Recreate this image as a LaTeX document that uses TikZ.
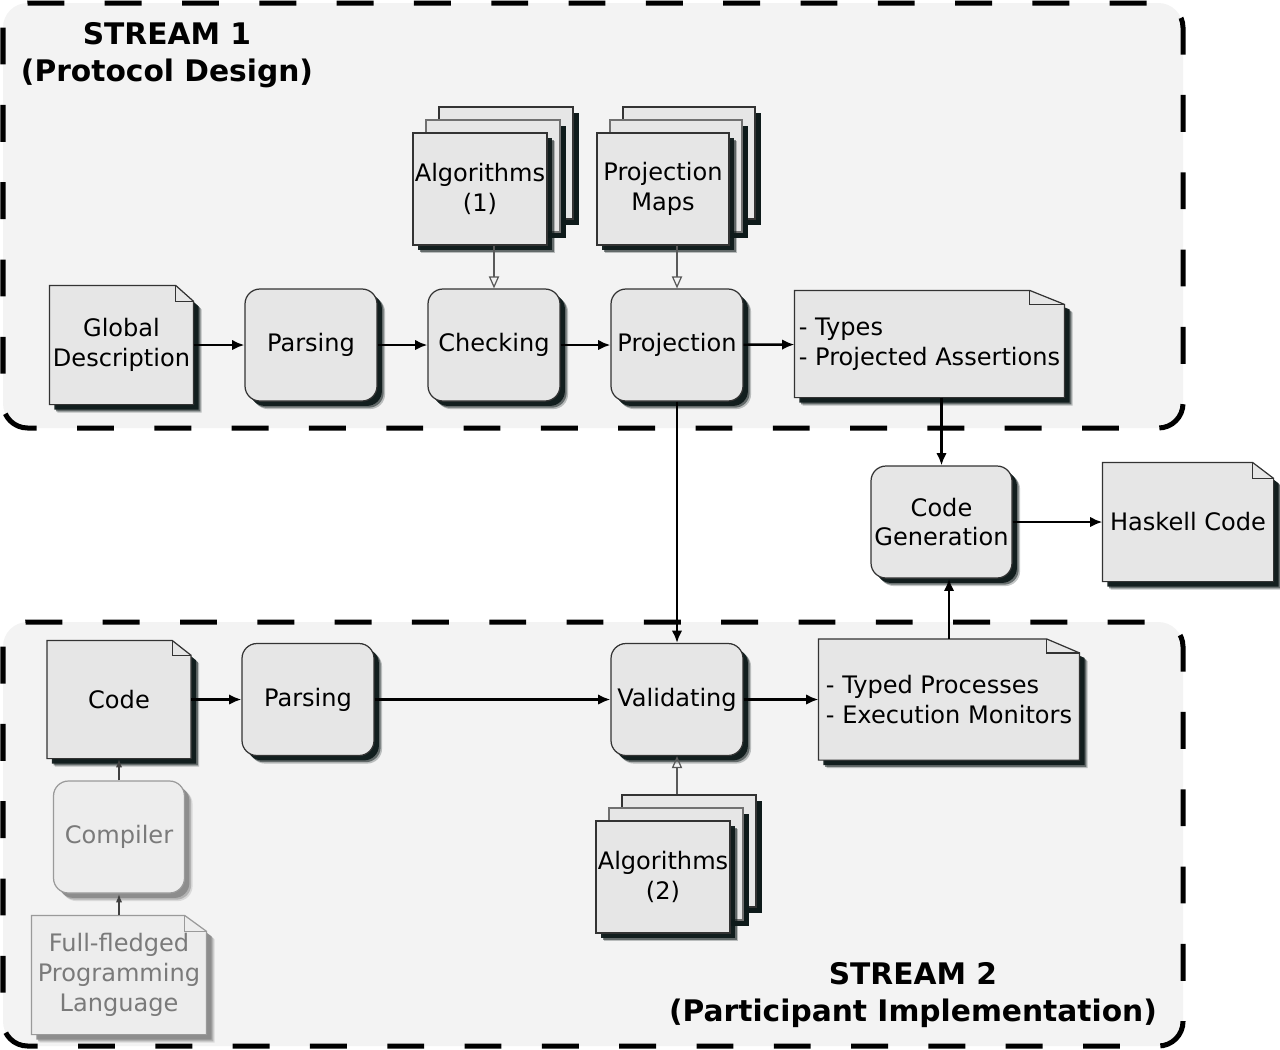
\documentclass[tikz,border=0pt]{standalone}
\usepackage{fontspec}
\setmainfont{DejaVu Sans}
\usetikzlibrary{arrows.meta,shadows,calc}
\definecolor{panel}{HTML}{F3F3F3}
\definecolor{boxfill}{HTML}{E6E6E6}
\definecolor{boxline}{HTML}{333333}
\definecolor{shadowc}{HTML}{0E1A1A}
\definecolor{ghostfill}{HTML}{EDEDED}
\definecolor{ghostline}{HTML}{9A9A9A}
\definecolor{faint}{HTML}{7A7A7A}

\makeatletter
\pgfkeys{/pgf/fold x/.initial=10pt,/pgf/fold y/.initial=9pt}
\pgfdeclareshape{dogear}{
	\inheritsavedanchors[from=rectangle]
	\inheritanchorborder[from=rectangle]
	\inheritanchor[from=rectangle]{center}
	\inheritanchor[from=rectangle]{text}
	\inheritanchor[from=rectangle]{base}
	\inheritanchor[from=rectangle]{mid}
	\inheritanchor[from=rectangle]{north}
	\inheritanchor[from=rectangle]{south}
	\inheritanchor[from=rectangle]{east}
	\inheritanchor[from=rectangle]{west}
	\inheritanchor[from=rectangle]{north east}
	\inheritanchor[from=rectangle]{north west}
	\inheritanchor[from=rectangle]{south east}
	\inheritanchor[from=rectangle]{south west}
	\backgroundpath{
		\pgfmathsetlengthmacro\dgfx{\pgfkeysvalueof{/pgf/fold x}}
		\pgfmathsetlengthmacro\dgfy{\pgfkeysvalueof{/pgf/fold y}}
		\southwest \edef\dgxa{\the\pgf@x}\edef\dgya{\the\pgf@y}
		\northeast \edef\dgxb{\the\pgf@x}\edef\dgyb{\the\pgf@y}
		\pgfpathmoveto{\pgfpoint{\dgxa}{\dgya}}
		\pgfpathlineto{\pgfpoint{\dgxa}{\dgyb}}
		\pgfpathlineto{\pgfpoint{\dgxb-\dgfx}{\dgyb}}
		\pgfpathlineto{\pgfpoint{\dgxb}{\dgyb-\dgfy}}
		\pgfpathlineto{\pgfpoint{\dgxb}{\dgya}}
		\pgfpathclose
	}
	\beforebackgroundpath{
		\pgfmathsetlengthmacro\dgfx{\pgfkeysvalueof{/pgf/fold x}}
		\pgfmathsetlengthmacro\dgfy{\pgfkeysvalueof{/pgf/fold y}}
		\northeast \edef\dgxb{\the\pgf@x}\edef\dgyb{\the\pgf@y}
		\pgfpathmoveto{\pgfpoint{\dgxb-\dgfx}{\dgyb}}
		\pgfpathlineto{\pgfpoint{\dgxb-\dgfx}{\dgyb-\dgfy}}
		\pgfpathlineto{\pgfpoint{\dgxb}{\dgyb-\dgfy}}
		\pgfusepath{stroke}
	}
}
\makeatother

\begin{document}
\begin{tikzpicture}[x=0.02cm,y=-0.02cm,
	every node/.style={font=\fontsize{13.7}{17}\selectfont},
	stream/.style={fill=panel,draw=black,line width=2.85pt,dash pattern=on 21pt off 23pt,rounded corners=14pt},
	streamtitle/.style={font=\bfseries\fontsize{16.9}{21}\selectfont,align=center},
	base/.style={fill=boxfill,draw=boxline,line width=0.7pt,inner sep=1pt,align=center,minimum width=2.64cm,minimum height=2.24cm},
	castshadow/.style={
		drop shadow={shadow xshift=4.6pt,shadow yshift=-4.6pt,fill=#1,opacity=.25},
		drop shadow={shadow xshift=3.8pt,shadow yshift=-3.8pt,fill=#1,opacity=.5},
		drop shadow={shadow xshift=2.8pt,shadow yshift=-2.8pt,fill=#1,opacity=.95}},
	castshadow/.default=shadowc,
	proc/.style={base,castshadow,rounded corners=8.5pt},
	doc/.style 2 args={base,castshadow,shape=dogear,/pgf/fold x=#1,/pgf/fold y=#2},
	ghost/.style={base,castshadow=black!45,fill=ghostfill,draw=ghostline,text=faint},
	stack/.style={base,
		general shadow={shadow xshift=18pt,shadow yshift=11.6pt,fill=shadowc},
		general shadow={shadow xshift=14.8pt,shadow yshift=14.8pt,fill=boxfill,draw=boxline},
		general shadow={shadow xshift=10.6pt,shadow yshift=4.2pt,fill=shadowc},
		general shadow={shadow xshift=7.4pt,shadow yshift=7.4pt,fill=boxfill,draw=boxline!70},
		castshadow},
	flow/.style={-{Latex[length=7pt,width=6pt]},line width=1.4pt},
	uses/.style={-{Triangle[open,length=6.8pt,width=5.8pt]},draw=black!65,line width=0.7pt},
	feed/.style={-{Latex[length=5pt,width=3.6pt]},line width=1.3pt,draw=black!75}]
	\useasboundingbox (0,0) rectangle (1280,1049);
	\draw[stream] (3,3) rectangle (1183,428);
	\draw[stream] (3,622) rectangle (1183,1046);
	\node[streamtitle] (title1) at (167,55) {STREAM 1\\(Protocol Design)};
	\node[streamtitle] (title2) at (913,995) {STREAM 2\\(Participant Implementation)};

	\node[doc={10.2pt}{9.1pt},minimum width=2.86cm,minimum height=2.36cm] (gd) at (121.5,345) {Global\\Description};
	\node[proc] (parse1) at (311,345) {Parsing};
	\node[proc] (check) at (494,345) {Checking};
	\node[proc] (proj) at (677,345) {Projection};
	\node[doc={19.9pt}{8pt},minimum width=5.38cm,minimum height=2.12cm,align=left] (types) at (929.5,344) {- Types\\- Projected Assertions};
	\node[stack] (alg1) at (480,189) {Algorithms\\(1)};
	\node[stack] (pmaps) at (663,189) {Projection\\Maps};

	\node[proc,minimum width=2.82cm] (cg) at (941.5,522) {Code\\Generation};
	\node[doc={12pt}{9.1pt},minimum width=3.4cm,minimum height=2.36cm] (hask) at (1188,522) {Haskell Code};

	\node[doc={10.8pt}{8.5pt},minimum width=2.86cm,minimum height=2.34cm] (code) at (119,699.5) {Code};
	\node[proc] (parse2) at (308,699.5) {Parsing};
	\node[proc] (valid) at (677,699.5) {Validating};
	\node[doc={18.8pt}{8pt},minimum width=5.2cm,minimum height=2.4cm,align=left] (typed) at (949,699.5) {- Typed Processes\\- Execution Monitors};
	\node[stack] (alg2) at (663,877) {Algorithms\\(2)};
	\node[ghost,rounded corners=8.5pt,minimum width=2.62cm] (comp) at (119,837) {Compiler};
	\node[ghost,shape=dogear,/pgf/fold x=12.5pt,/pgf/fold y=9.1pt,minimum width=3.48cm,minimum height=2.36cm] (ffl) at (119,975) {Full-fledged\\Programming\\Language};

	\draw[flow] (gd) -- (parse1);
	\draw[flow] (parse1) -- (check);
	\draw[flow] (check) -- (proj);
	\draw[flow] (proj) -- (types);
	\draw[uses] (alg1.south -| check.north) -- (check.north);
	\draw[uses] (pmaps.south -| proj.north) -- (proj.north);
	\draw[flow] (types.south -| cg.north) -- (cg.north);
	\draw[flow] (proj) -- (valid);
	\draw[flow] (cg) -- (hask);
	\draw[flow] (typed.north) -- (typed.north |- cg.south);
	\draw[flow] (code) -- (parse2);
	\draw[flow] (parse2) -- (valid);
	\draw[flow] (valid) -- (typed);
	\draw[uses] ($(alg2.north -| valid.south)+(0pt,14.8pt)$) -- (valid.south);
	\draw[feed] (ffl) -- (comp);
	\draw[feed] (comp) -- (code);
\end{tikzpicture}
\end{document}
